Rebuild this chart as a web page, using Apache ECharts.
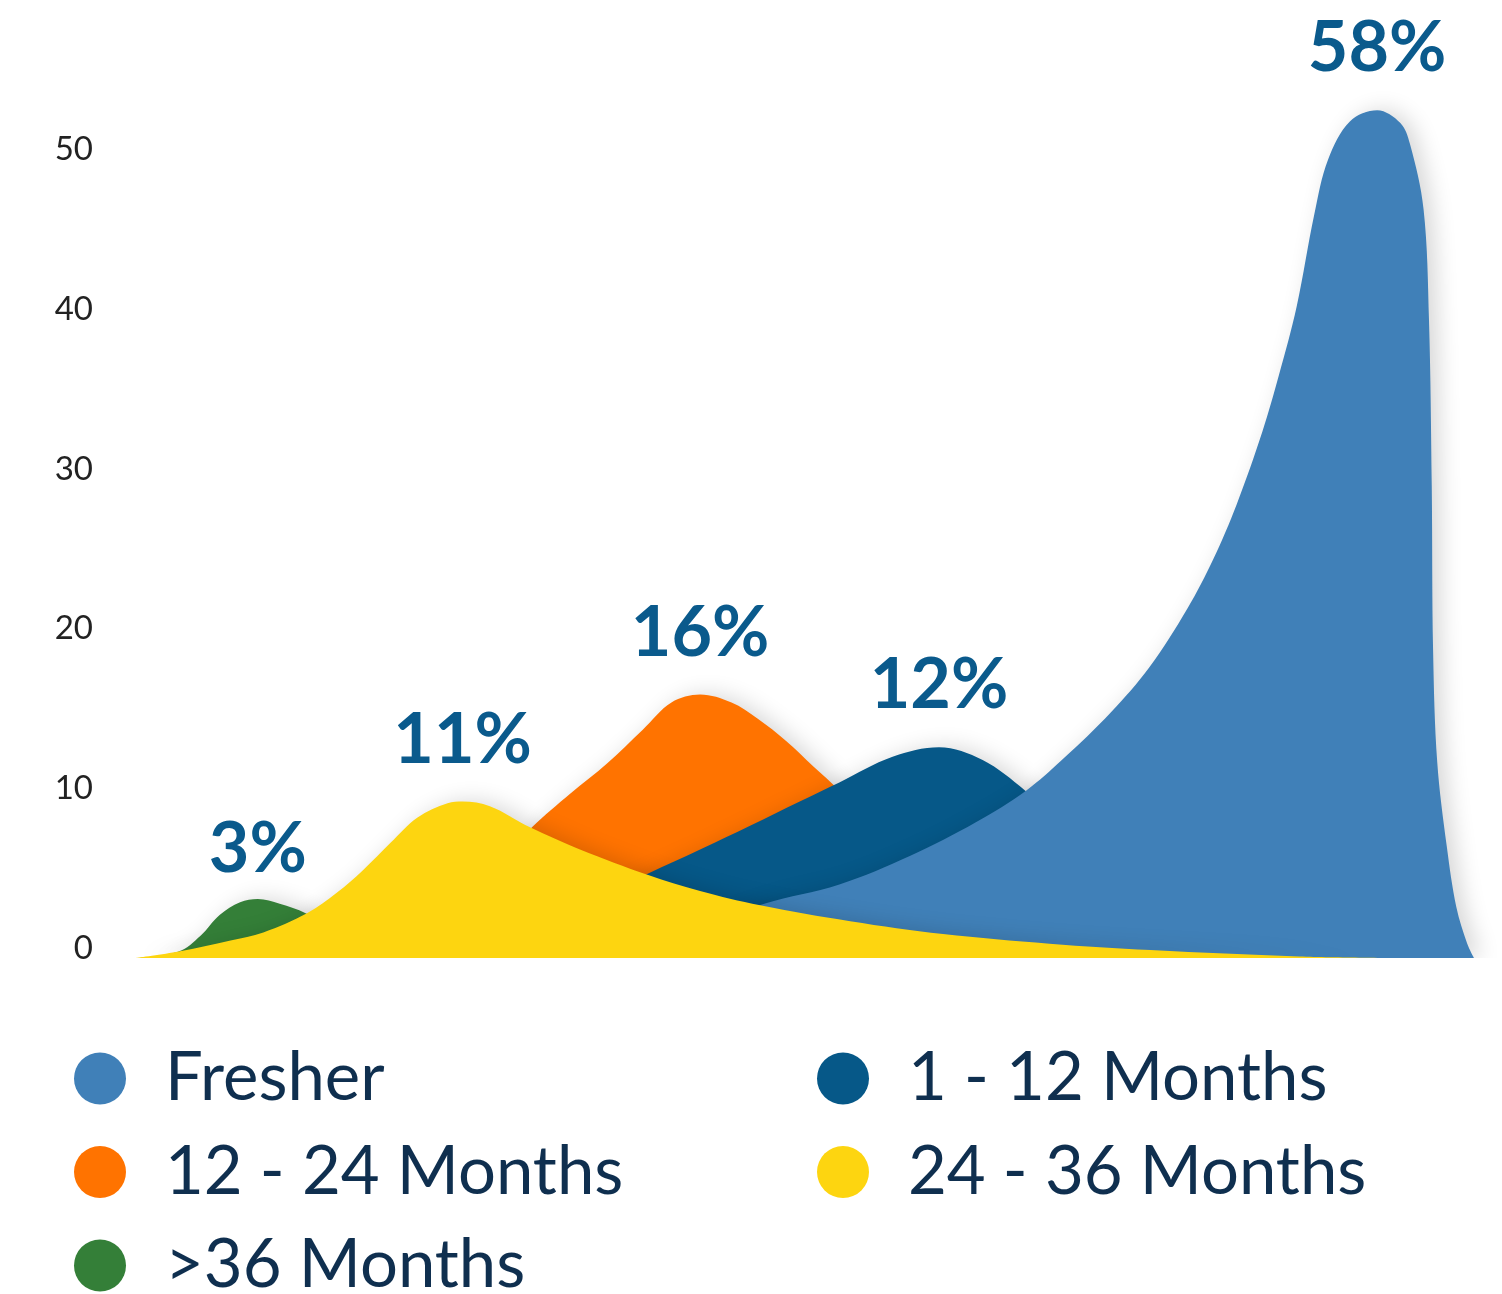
<!DOCTYPE html>
<html>
<head>
<meta charset="utf-8">
<script src="https://cdn.jsdelivr.net/npm/echarts@6/dist/echarts.min.js"></script>
<style>
  html, body { margin: 0; padding: 0; background: #fff; }
  #chart { width: 1502px; height: 1294px; }
</style>
</head>
<body>
<div id="chart"></div>
<script>
/* ── data: [position, value] ── */
const seriesNames = ['Fresher', '1 - 12 Months', '12 - 24 Months', '24 - 36 Months', '>36 Months'];
const peakLabels = ['58%', '12%', '16%', '11%', '3%'];

const fresherPts = [
  [31.1, 0], [38.5, 1.2], [46.1, 3.4], [51.6, 4.6], [56.8, 6.4], [61.6, 8.5], [65.3, 10.5],
  [67.9, 12.4], [71.5, 15.4], [74.3, 18.2], [77.1, 21.9], [79.0, 25.0], [80.7, 28.4],
  [82.6, 33.0], [83.8, 36.5], [85.1, 40.8], [86.4, 46.6], [87.4, 50.0], [89.0, 52.4],
  [91.0, 53.1], [92.7, 52.3], [93.4, 51.0], [94.4, 46.9], [94.8, 39.9], [95.0, 29.6],
  [95.1, 19.2], [95.4, 12.3], [96.1, 7.0], [96.8, 3.2], [97.6, 0.9], [98.1, 0]
];
const m1to12Pts = [
  [31.1, 2.6], [34.1, 3.9], [37.6, 5.3], [41.4, 6.8], [45.1, 8.3], [48.7, 9.8], [51.6, 11.0],
  [55.5, 12.6], [58.9, 13.2], [62.1, 12.4], [65.2, 10.5], [67.8, 8.5], [70.7, 6.0],
  [74.4, 3.5], [78.0, 1.5], [82.4, 0]
];
const m12to24Pts = [
  [16.5, 0], [19.4, 0.8], [23.1, 3.0], [26.7, 6.0], [29.1, 8.2], [31.9, 10.3], [34.6, 12.2],
  [37.2, 14.3], [39.3, 16.0], [41.4, 16.5], [43.7, 16.0], [45.6, 15.0], [47.7, 13.6],
  [49.7, 12.0], [51.6, 10.5], [53.8, 8.5], [56.8, 6.2], [60.4, 4.0], [64.8, 1.8],
  [69.2, 0.5], [72.9, 0]
];
const m24to36Pts = [
  [0.1, 0], [3.2, 0.4], [7.0, 1.1], [9.4, 1.6], [12.6, 2.8], [14.8, 4.1], [16.7, 5.5],
  [18.7, 7.2], [20.7, 8.8], [22.9, 9.7], [24.0, 9.8], [26.0, 9.5], [28.9, 8.2], [32.6, 6.8],
  [37.6, 5.2], [41.4, 4.2], [45.8, 3.3], [52.4, 2.3], [59.2, 1.5], [67.0, 0.9], [74.4, 0.5],
  [85.3, 0.1], [92.7, 0]
];
const over36Pts = [
  [0.4, 0], [3.2, 0.4], [4.8, 1.4], [6.2, 2.7], [7.7, 3.5], [9.0, 3.7], [10.6, 3.4],
  [12.5, 2.8], [15.0, 1.4], [17.9, 0.4], [20.9, 0]
];

const yTicks = [0, 10, 20, 30, 40, 50];
const colors = ['#4080b8', '#065888', '#ff7300', '#fdd510', '#347f38'];

const chart = echarts.init(document.getElementById('chart'));

// back-to-front drawing order: green, orange, dark blue, light blue, yellow
const order = [4, 2, 1, 0, 3];
const pts = [fresherPts, m1to12Pts, m12to24Pts, m24to36Pts, over36Pts];
const labelGap = [26, 26, 26, 26, 14];

const series = order.map(i => ({
  name: seriesNames[i],
  type: 'line',
  data: pts[i],
  smooth: 0.35,
  showSymbol: false,
  symbol: 'none',
  lineStyle: { width: 0 },
  itemStyle: { color: colors[i] },
  areaStyle: {
    color: colors[i], opacity: 1,
    shadowColor: 'rgba(0,0,0,0.16)', shadowBlur: 22, shadowOffsetX: 8
  },
  markPoint: {
    symbol: 'rect', symbolSize: 1,
    itemStyle: { color: 'rgba(0,0,0,0)' },
    label: {
      show: true, position: 'top', distance: labelGap[i],
      formatter: peakLabels[i],
      fontFamily: 'Lato', fontWeight: 'bold', fontSize: 70, color: '#0a5a8c'
    },
    data: [{ type: 'max', valueDim: 'y' }]
  }
}));

const legendBase = {
  orient: 'vertical', icon: 'circle', height: 320,
  itemWidth: 52, itemHeight: 52, itemGap: 26.5,
  textStyle: { fontFamily: 'Lato', fontSize: 67, color: '#0f2f4f', padding: [0, 0, 0, 34] }
};

chart.setOption({
  animation: false,
  grid: { left: 135, right: 2, top: 80, bottom: 336 },
  xAxis: { type: 'value', min: 0, max: 100, show: false },
  yAxis: {
    type: 'value', min: 0, max: 55, interval: 10,
    axisLine: { show: false }, axisTick: { show: false }, splitLine: { show: false },
    axisLabel: {
      margin: 42, fontFamily: 'Lato', fontSize: 33, color: '#222',
      verticalAlign: 'bottom', lineHeight: 20, showMaxLabel: false,
      formatter: v => (yTicks.includes(v) ? String(v) : '')
    }
  },
  legend: [
    Object.assign({ left: 69, top: 1040, data: [seriesNames[0], seriesNames[2], seriesNames[4]] }, legendBase),
    Object.assign({ left: 812, top: 1040, data: [seriesNames[1], seriesNames[3]] }, legendBase)
  ],
  series
});
</script>
</body>
</html>
